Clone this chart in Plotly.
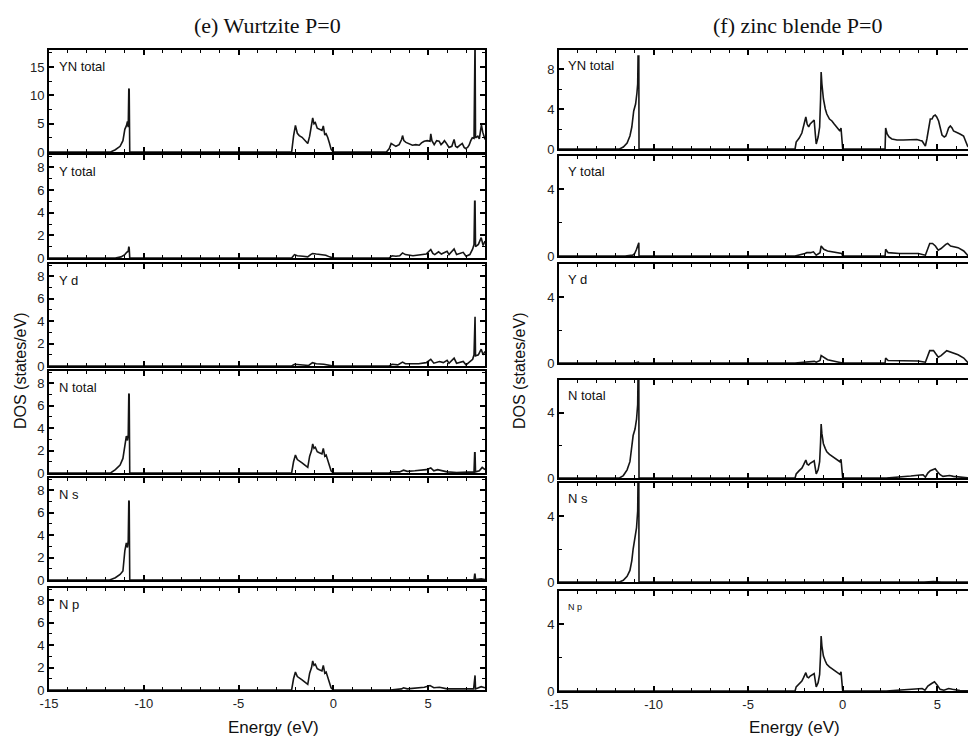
import plotly.graph_objects as go

# ---------------- DATA ----------------
energy_ticks = [-15, -10, -5, 0, 5]
energy_tick_text = ["-15", "-10", "-5", "0", "5"]

# (e) Wurtzite P=0
wz_yn_E = [-15, -11.75, -11.5, -11.25, -11.1, -11.0, -10.92, -10.86, -10.82, -10.79, -10.77, -10.74,
           -2.2, -2.1, -2.0, -1.9, -1.8, -1.65, -1.5, -1.35, -1.25, -1.15, -1.09, -1.02, -0.95, -0.85,
           -0.74, -0.6, -0.53, -0.45, -0.38, -0.3, -0.2, -0.12, 0.0,
           2.8, 2.95, 3.05, 3.15, 3.3, 3.47, 3.6, 3.65, 3.72, 3.83, 4.0, 4.17, 4.35, 4.53, 4.65, 4.79,
           4.95, 5.1, 5.14, 5.2, 5.32, 5.45, 5.58, 5.68, 5.77, 5.86, 5.95, 6.02, 6.1, 6.25, 6.37, 6.45,
           6.54, 6.68, 6.8, 6.9, 6.98, 7.08, 7.16, 7.25, 7.33, 7.42, 7.455, 7.475, 7.5, 7.62, 7.7, 7.81,
           7.88, 7.95, 8.0]
wz_yn = [0, 0, 0.4, 1.0, 2.0, 4.0, 4.6, 5.4, 4.4, 11.2, 11.0, 0,
         0, 2.8, 4.7, 3.3, 2.9, 2.6, 2.0, 1.5, 2.8, 4.5, 6.0, 5.0, 5.2, 4.2,
         4.0, 3.8, 4.6, 3.0, 3.2, 2.6, 1.5, 0.5, 0,
         0, 0.6, 1.5, 1.3, 1.0, 1.3, 2.2, 2.9, 2.0, 1.7, 1.5, 1.2, 1.3, 1.2, 1.6, 1.9,
         2.0, 1.9, 3.2, 2.0, 1.3, 2.0, 1.9, 1.3, 1.6, 2.0, 1.6, 1.2, 0.8, 1.0, 2.2, 1.0,
         0.8, 1.2, 1.5, 0.8, 0.6, 0.8, 1.2, 2.0, 2.5, 2.4, 20, 20, 2.5, 2.8, 2.3, 4.8,
         3.5, 2.5, 2.2]

wz_y_E = [-15, -11.5, -11.2, -11.0, -10.9, -10.82, -10.79, -10.77, -10.74,
          -2.2, -2.05, -1.9, -1.6, -1.35, -1.2, -1.1, -0.9, -0.6, -0.4, -0.2, 0.0,
          2.95, 3.1, 3.3, 3.5, 3.65, 3.8, 4.2, 4.6, 4.9, 5.14, 5.25, 5.35, 5.55, 5.7, 5.85, 6.0,
          6.1, 6.37, 6.5, 6.7, 6.85, 7.0, 7.2, 7.35, 7.42, 7.455, 7.475, 7.5, 7.65, 7.8, 7.9, 8.0]
wz_y = [0, 0, 0.1, 0.3, 0.5, 0.6, 1.0, 0.9, 0,
        0, 0.3, 0.2, 0.15, 0.1, 0.3, 0.4, 0.35, 0.3, 0.25, 0.1, 0,
        0, 0.2, 0.15, 0.2, 0.45, 0.3, 0.2, 0.25, 0.35, 0.75, 0.4, 0.3, 0.55, 0.35, 0.45, 0.6,
        0.3, 0.8, 0.3, 0.4, 0.5, 0.15, 0.3, 0.8, 1.2, 5.0, 5.0, 1.0, 1.2, 1.8, 1.1, 1.5]

wz_yd_E = [-15, -11.0, -10.8, -10.74,
           -2.2, -2.05, -1.8, -1.3, -1.1, -0.9, -0.5, -0.2, 0.0,
           2.95, 3.1, 3.4, 3.65, 3.8, 4.5, 4.9, 5.14, 5.3, 5.6, 5.8, 6.0, 6.1, 6.37, 6.5, 6.85,
           7.0, 7.35, 7.42, 7.455, 7.475, 7.5, 7.65, 7.8, 7.9, 8.0]
wz_yd = [0, 0, 0.05, 0,
         0, 0.15, 0.1, 0.05, 0.3, 0.2, 0.15, 0.05, 0,
         0, 0.15, 0.1, 0.35, 0.2, 0.2, 0.3, 0.6, 0.25, 0.4, 0.3, 0.5, 0.25, 0.7, 0.25, 0.4,
         0.1, 0.6, 1.0, 4.4, 4.4, 0.9, 1.0, 1.5, 1.0, 1.3]

wz_nt_E = [-15, -11.75, -11.5, -11.25, -11.1, -11.0, -10.92, -10.86, -10.82, -10.79, -10.77, -10.74,
           -2.2, -2.1, -2.0, -1.9, -1.8, -1.65, -1.5, -1.35, -1.25, -1.15, -1.09, -1.02, -0.95, -0.85,
           -0.74, -0.6, -0.53, -0.45, -0.38, -0.3, -0.2, -0.12, 0.0,
           2.95, 3.1, 3.5, 3.7, 3.9, 4.3, 4.6, 4.9, 5.14, 5.3, 5.5, 5.7, 6.0, 6.5, 7.3, 7.42,
           7.455, 7.475, 7.5, 7.7, 7.85, 8.0]
wz_nt = [0, 0, 0.3, 0.7, 1.3, 2.6, 3.3, 2.9, 3.4, 7.1, 7.0, 0,
         0, 1.0, 1.6, 1.2, 1.05, 0.9, 0.7, 0.5, 1.5, 2.0, 2.6, 2.2, 2.3, 1.9,
         1.8, 1.7, 2.2, 1.5, 1.6, 1.2, 0.6, 0.2, 0,
         0, 0.1, 0.1, 0.25, 0.15, 0.2, 0.25, 0.3, 0.45, 0.2, 0.3, 0.2, 0.1, 0.05, 0.05, 0.1,
         1.8, 1.8, 0.1, 0.2, 0.5, 0.3]

wz_ns_E = [-15, -11.8, -11.5, -11.25, -11.1, -11.0, -10.92, -10.86, -10.82, -10.79, -10.77, -10.74,
           5.0, 5.5, 7.42, 7.455, 7.475, 7.5, 7.8, 8.0]
wz_ns = [0, 0, 0.2, 0.5, 0.8, 2.6, 3.3, 2.9, 3.5, 7.1, 7.0, 0,
         0, 0.05, 0.02, 0.5, 0.5, 0.05, 0.1, 0.05]

wz_np_E = [-15, -2.2, -2.1, -2.0, -1.9, -1.8, -1.65, -1.5, -1.35, -1.25, -1.15, -1.09, -1.02, -0.95,
           -0.85, -0.74, -0.6, -0.53, -0.45, -0.38, -0.3, -0.2, -0.12, 0.0,
           3.0, 3.6, 3.7, 3.9, 4.5, 4.8, 5.1, 5.3, 5.6, 6.0, 7.4, 7.455, 7.475, 7.5, 7.8, 8.0]
wz_np = [0, 0, 1.0, 1.6, 1.2, 1.05, 0.9, 0.7, 0.5, 1.5, 2.0, 2.6, 2.2, 2.3,
         1.9, 1.8, 1.7, 2.2, 1.5, 1.6, 1.2, 0.6, 0.2, 0,
         0, 0.1, 0.2, 0.1, 0.2, 0.25, 0.4, 0.2, 0.25, 0.1, 0.1, 1.3, 1.3, 0.1, 0.3, 0.2]

# (f) zinc blende P=0
zb_yn_E = [-15, -11.8, -11.6, -11.4, -11.25, -11.15, -11.05, -10.95, -10.88, -10.84, -10.82, -10.78, -10.77,
           -2.52, -2.46, -2.3, -2.16, -2.07, -1.95, -1.88, -1.8, -1.72, -1.6, -1.51, -1.45, -1.4, -1.3,
           -1.22, -1.17, -1.14, -1.1, -1.02, -0.92, -0.84, -0.7, -0.57, -0.45, -0.31, -0.2, -0.15, -0.09,
           -0.02, 0.0,
           2.24, 2.27, 2.35, 2.45, 2.6, 2.87, 3.2, 3.57, 3.92, 4.1, 4.2, 4.3, 4.37, 4.45, 4.55, 4.63,
           4.72, 4.8, 4.89, 4.97, 5.07, 5.15, 5.25, 5.37, 5.45, 5.51, 5.6, 5.69, 5.78, 5.86, 6.04, 6.2,
           6.39, 6.5, 6.6, 6.75, 7.01]
zb_yn = [0, 0, 0.2, 0.6, 1.3, 2.2, 3.8, 4.5, 5.6, 6.5, 9.3, 9.3, 0,
         0, 0.7, 1.1, 1.6, 2.2, 3.2, 2.5, 2.2, 2.5, 2.7, 2.9, 1.5, 0.5, 1.2,
         2.2, 5.0, 7.7, 6.5, 5.0, 4.0, 3.5, 3.0, 2.8, 2.5, 2.2, 1.9, 1.8, 2.1,
         0.5, 0,
         0, 2.1, 1.5, 1.2, 1.0, 0.9, 0.9, 0.9, 0.95, 0.85, 0.8, 0.5, 0.3, 1.0, 2.0, 3.0,
         3.0, 3.3, 3.4, 3.2, 2.8, 2.0, 1.4, 1.2, 1.3, 1.6, 2.1, 2.3, 2.1, 1.8, 1.6, 1.5,
         1.3, 0.7, 0.3, 0.05, 0.05]

zb_y_E = [-15, -11.5, -11.1, -11.0, -10.9, -10.82, -10.78, -10.77,
          -2.52, -2.0, -1.9, -1.7, -1.55, -1.4, -1.2, -1.14, -1.0, -0.8, -0.5, -0.2, -0.05, 0.0,
          2.24, 2.27, 2.4, 3.0, 4.0, 4.37, 4.5, 4.6, 4.75, 4.9, 5.05, 5.2, 5.45, 5.55, 5.7, 6.1,
          6.4, 6.6, 7.01]
zb_y = [0, 0, 0.05, 0.15, 0.4, 0.8, 0.8, 0,
        0, 0.15, 0.2, 0.2, 0.25, 0.05, 0.2, 0.6, 0.4, 0.3, 0.25, 0.2, 0.15, 0,
        0, 0.4, 0.2, 0.15, 0.15, 0.05, 0.5, 0.75, 0.75, 0.6, 0.35, 0.45, 0.7, 0.75, 0.6, 0.5,
        0.3, 0.05, 0.03]

zb_yd_E = [-15, -11.0, -10.8, -10.77,
           -2.52, -2.0, -1.5, -1.4, -1.2, -1.14, -0.8, -0.2, 0.0,
           2.24, 2.27, 2.4, 4.0, 4.37, 4.5, 4.6, 4.8, 5.05, 5.2, 5.5, 6.1, 6.4, 6.6, 7.01]
zb_yd = [0, 0, 0.05, 0,
         0, 0.05, 0.1, 0.05, 0.15, 0.45, 0.2, 0.05, 0,
         0, 0.3, 0.15, 0.12, 0.05, 0.5, 0.75, 0.75, 0.35, 0.45, 0.75, 0.5, 0.3, 0.05, 0.03]

zb_nt_E = [-15, -11.8, -11.6, -11.4, -11.25, -11.15, -11.08, -10.98, -10.9, -10.84, -10.82, -10.78, -10.77,
           -2.52, -2.46, -2.3, -2.16, -2.07, -1.95, -1.88, -1.8, -1.72, -1.6, -1.51, -1.45, -1.4, -1.3,
           -1.22, -1.17, -1.14, -1.1, -1.02, -0.92, -0.84, -0.7, -0.57, -0.45, -0.31, -0.2, -0.15, -0.09,
           -0.02, 0.0,
           2.3, 3.0, 3.6, 4.1, 4.25, 4.37, 4.5, 4.63, 4.8, 4.89, 5.0, 5.15, 5.3, 5.51, 5.65, 5.85, 6.2,
           6.6, 7.01]
zb_nt = [0, 0, 0.15, 0.5, 1.0, 1.8, 2.6, 3.0, 3.6, 4.5, 6.5, 6.5, 0,
         0, 0.25, 0.45, 0.6, 0.8, 1.1, 0.85, 0.8, 0.9, 1.0, 1.05, 0.6, 0.25, 0.5,
         1.0, 2.2, 3.3, 2.7, 2.1, 1.8, 1.6, 1.45, 1.35, 1.25, 1.15, 1.05, 1.0, 1.15,
         0.3, 0,
         0, 0.05, 0.12, 0.18, 0.2, 0.05, 0.3, 0.45, 0.55, 0.57, 0.4, 0.2, 0.1, 0.12, 0.15, 0.1, 0.05,
         0.01, 0]

zb_ns_E = [-15, -11.8, -11.6, -11.4, -11.25, -11.15, -11.08, -10.98, -10.9, -10.84, -10.82, -10.78, -10.77,
           4.3, 4.8, 5.2, 7.01]
zb_ns = [0, 0, 0.1, 0.35, 0.7, 1.3, 2.0, 2.6, 3.3, 4.3, 6.5, 6.5, 0,
         0, 0.03, 0, 0]

zb_np_E = [-15, -2.52, -2.46, -2.3, -2.16, -2.07, -1.95, -1.88, -1.8, -1.72, -1.6, -1.51, -1.45, -1.4,
           -1.3, -1.22, -1.17, -1.14, -1.1, -1.02, -0.92, -0.84, -0.7, -0.57, -0.45, -0.31, -0.2,
           -0.15, -0.09, -0.02, 0.0,
           2.3, 3.5, 4.2, 4.35, 4.5, 4.7, 4.85, 5.0, 5.15, 5.35, 5.6, 5.8, 6.2, 7.01]
zb_np = [0, 0, 0.25, 0.45, 0.6, 0.8, 1.1, 0.85, 0.8, 0.9, 1.0, 1.05, 0.6, 0.25,
         0.5, 1.0, 2.2, 3.3, 2.7, 2.1, 1.8, 1.6, 1.45, 1.35, 1.25, 1.15, 1.05,
         1.0, 1.15, 0.3, 0,
         0, 0.08, 0.15, 0.05, 0.3, 0.45, 0.55, 0.35, 0.1, 0.05, 0.15, 0.1, 0.03, 0]

left_labels = ["YN total", "Y total", "Y d", "N total", "N s", "N p"]
right_labels = ["YN total", "Y total", "Y d", "N total", "N s", "N p"]
left_series = [(wz_yn_E, wz_yn), (wz_y_E, wz_y), (wz_yd_E, wz_yd),
               (wz_nt_E, wz_nt), (wz_ns_E, wz_ns), (wz_np_E, wz_np)]
right_series = [(zb_yn_E, zb_yn), (zb_y_E, zb_y), (zb_yd_E, zb_yd),
                (zb_nt_E, zb_nt), (zb_ns_E, zb_ns), (zb_np_E, zb_np)]

# ---------------- LAYOUT ----------------
# The page body has an 8px default margin, so the figure is placed at (8, 8)
OFF = 8
W, H = 976 - OFF, 739 - OFF
left_px = [(50, 152), (155, 258), (264, 366), (371, 473), (478, 580), (588, 690)]
right_px = [(50, 149), (156, 256), (264, 363), (380, 478), (483, 582), (591, 691)]


def xfrac(px):
    return min(1.0, (px - OFF) / W)


def yfrac(py):
    return 1 - (py - OFF) / H


left_x_dom = [xfrac(49), xfrac(485)]
right_x_dom = [xfrac(559), xfrac(975.3)]

AX_FONT = dict(family="Liberation Sans, Arial, sans-serif", size=13, color="#222")
LINE_COL = "#151515"

fig = go.Figure()
layout = {}
annotations = []

panels = []
for i in range(6):
    panels.append(("L", i, left_px[i], left_series[i], left_labels[i]))
for i in range(6):
    panels.append(("R", i, right_px[i], right_series[i], right_labels[i]))

for k, (side, i, (top, bot), (ex, dy), lab) in enumerate(panels, start=1):
    xa = "xaxis" if k == 1 else f"xaxis{k}"
    ya = "yaxis" if k == 1 else f"yaxis{k}"
    xr = "x" if k == 1 else f"x{k}"
    yr = "y" if k == 1 else f"y{k}"
    fig.add_trace(go.Scatter(x=ex, y=dy, mode="lines", xaxis=xr, yaxis=yr,
                             line=dict(color=LINE_COL, width=1.6), showlegend=False,
                             hoverinfo="skip"))
    common = dict(showgrid=False, zeroline=False, showline=True, linecolor="black",
                  linewidth=2, mirror="allticks", ticks="inside", ticklen=5,
                  tickwidth=1.5, tickcolor="black", tickfont=AX_FONT, automargin=False)
    if side == "L":
        xrange = [-15, 8]
        xdom = left_x_dom
        if i == 0:
            yrange, ydt, ymin = [0, 18], 5, 2.5
        else:
            yrange, ydt, ymin = [0, 9.1], 2, 1
    else:
        xrange = [-15, 7.01]
        xdom = right_x_dom
        if i == 0:
            yrange, ydt, ymin = [0, 9.9], 4, 2
        else:
            yrange, ydt, ymin = [0, 6.0], 4, 2
    layout[xa] = dict(common, domain=xdom, range=xrange, anchor=yr,
                      tickmode="array", tickvals=energy_ticks, ticktext=energy_tick_text,
                      showticklabels=(i == 5),
                      minor=dict(tick0=-15, dtick=1, ticks="inside", ticklen=3,
                                 tickwidth=1.2, tickcolor="black", showgrid=False))
    layout[ya] = dict(common, domain=[yfrac(bot), yfrac(top)], range=yrange, anchor=xr,
                      tickmode="linear", tick0=0, dtick=ydt,
                      minor=dict(tick0=0, dtick=ymin, ticks="inside", ticklen=3,
                                 tickwidth=1.2, tickcolor="black", showgrid=False))
    small = (side == "R" and i == 5)
    annotations.append(dict(text=lab, xref=f"{xr} domain", yref=f"{yr} domain",
                            x=0.018, y=0.84, xanchor="left", yanchor="middle",
                            showarrow=False,
                            font=dict(family="Liberation Sans, Arial, sans-serif",
                                      size=9 if small else 13, color="#111")))

TITLE_FONT = dict(family="Liberation Serif, Times New Roman, serif", size=22, color="#111")
LBL_FONT = dict(family="Liberation Sans, Arial, sans-serif", size=16, color="#111")
E_FONT = dict(family="Liberation Sans, Arial, sans-serif", size=17, color="#111")

for txt, (px, py) in [("(e) Wurtzite P=0", (267, 25)), ("(f) zinc blende P=0", (797, 25))]:
    annotations.append(dict(text=txt, xref="paper", yref="paper", x=xfrac(px), y=yfrac(py),
                            xanchor="center", yanchor="middle", showarrow=False, font=TITLE_FONT))
for txt, (px, py) in [("Energy (eV)", (273, 727)), ("Energy (eV)", (794, 727))]:
    annotations.append(dict(text=txt, xref="paper", yref="paper", x=xfrac(px), y=yfrac(py),
                            xanchor="center", yanchor="middle", showarrow=False, font=E_FONT))
for px in (20, 519):
    annotations.append(dict(text="DOS (states/eV)", xref="paper", yref="paper",
                            x=xfrac(px), y=yfrac(371),
                            xanchor="center", yanchor="middle", textangle=-90,
                            showarrow=False, font=LBL_FONT))

fig.update_layout(width=W, height=H, margin=dict(l=0, r=0, t=0, b=0, autoexpand=False),
                  paper_bgcolor="white", plot_bgcolor="white",
                  annotations=annotations, **layout)

fig.write_html("out.html")
